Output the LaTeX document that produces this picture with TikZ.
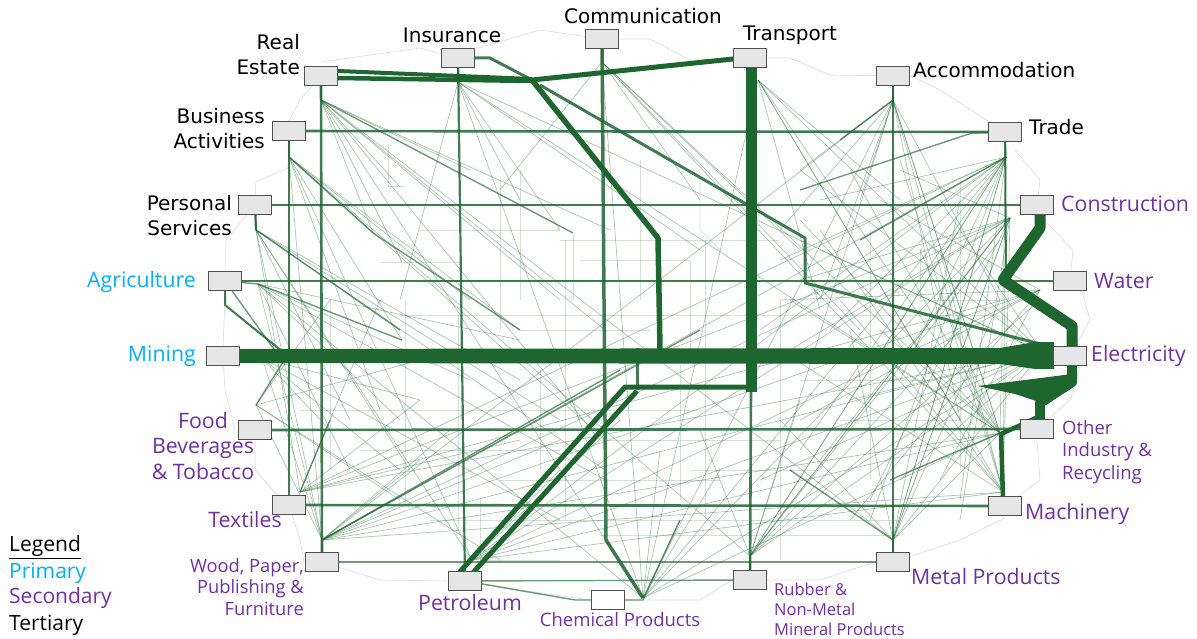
\documentclass[tikz,border=0pt]{standalone}
\usepackage{fontspec}
\setmainfont{Open Sans}
\newfontfamily\blk{DejaVu Sans}
\definecolor{eg}{HTML}{1F6530}
\definecolor{cy}{HTML}{00B0F0}
\definecolor{pu}{HTML}{7030A0}
\definecolor{bf}{HTML}{E6E6E6}
\definecolor{bl}{HTML}{505050}
\tikzset{
  box/.style={draw=bl, fill=bf, line width=1.3pt, minimum width=33pt, minimum height=19pt, inner sep=0pt},
  thinl/.style={draw=eg, line width=0.7pt, opacity=0.38},
  faint/.style={draw=eg, line width=0.6pt, opacity=0.2},
  medl/.style={draw=eg, line width=2.6pt, opacity=0.85, line join=round},
  semil/.style={draw=eg, line width=1.4pt, opacity=0.65, line join=round},
  thickl/.style={draw=eg, line width=5.5pt, line join=round},
  tlab/.style={font=\blk\fontsize{20}{25}\selectfont, text=black, inner sep=0pt},
  plab/.style={font=\fontsize{21.3}{25.5}\selectfont, text=pu, inner sep=0pt},
  clab/.style={font=\fontsize{21.3}{25.5}\selectfont, text=cy, inner sep=0pt},
  slab/.style={font=\fontsize{17.5}{21.5}\selectfont, text=pu, inner sep=0pt},
}
\begin{document}
\begin{tikzpicture}[x=1pt,y=-1pt]
\useasboundingbox (0,0) rectangle (1197,639);
\path
  (321,76)  coordinate (p-re)
  (458,58)  coordinate (p-ins)
  (602,39)  coordinate (p-com)
  (750,58)  coordinate (p-tra)
  (893,76)  coordinate (p-acc)
  (1005,132) coordinate (p-trd)
  (1037,205) coordinate (p-con)
  (1070,281) coordinate (p-wat)
  (1070,356) coordinate (p-ele)
  (1037,429) coordinate (p-oth)
  (1005,506) coordinate (p-mac)
  (893,562) coordinate (p-met)
  (750,580) coordinate (p-rub)
  (608,600) coordinate (p-che)
  (465,581) coordinate (p-pet)
  (322,562) coordinate (p-woo)
  (289,505) coordinate (p-tex)
  (255,430) coordinate (p-foo)
  (223,356) coordinate (p-min)
  (225,281) coordinate (p-agr)
  (255,205) coordinate (p-per)
  (289,131) coordinate (p-bus);
% stub points
\coordinate (s-re) at (321,100);
\coordinate (s-ins) at (458,82);
\coordinate (s-com) at (602,62);
\coordinate (s-tra) at (758,80);
\coordinate (s-acc) at (893,100);
\coordinate (s-trd) at (1006,157);
\coordinate (s-con) at (1010,218);
\coordinate (s-wat) at (1040,290);
\coordinate (s-ele) at (1042,352);
\coordinate (s-oth) at (1000,433);
\coordinate (s-mac) at (1003,492);
\coordinate (s-met) at (893,540);
\coordinate (s-rub) at (750,556);
\coordinate (s-che) at (643,598);
\coordinate (s-pet) at (472,560);
\coordinate (s-woo) at (322,540);
\coordinate (s-tex) at (300,492);
\coordinate (s-foo) at (256,405);
\coordinate (s-min) at (262,358);
\coordinate (s-agr) at (258,284);
\coordinate (s-per) at (256,230);
\coordinate (s-bus) at (289,157);
% ---------- faint rectilinear background lines ----------
\foreach \p in {
  {(405,300)--(405,505)}, {(458,315)--(458,530)}, {(565,240)--(565,520)}, {(705,240)--(705,520)},
  {(780,300)--(780,560)}, {(870,230)--(870,480)}, {(380,262)--(460,262)}, {(400,315)--(1000,315)},
  {(520,330)--(650,330)}, {(300,410)--(700,410)}, {(500,480)--(720,480)}, {(430,520)--(900,520)},
  {(600,535)--(900,535)}, {(560,240)--(780,240)}, {(388,145)--(388,186)--(405,186)}, {(573,235)--(573,300)},
  {(920,250)--(920,300)--(1000,300)}, {(840,420)--(960,420)}, {(330,300)--(330,470)}, {(500,180)--(500,330)},
  {(360,450)--(560,450)}, {(690,470)--(820,470)}, {(960,180)--(960,470)}, {(520,170)--(520,300)},
  {(640,160)--(640,300)}, {(580,260)--(690,260)--(690,350)}, {(440,280)--(620,280)}, {(700,180)--(700,230)--(720,250)},
  {(600,440)--(780,440)}, {(540,370)--(540,470)}, {(680,365)--(680,500)}, {(420,230)--(560,230)},
  {(800,380)--(930,380)}, {(480,500)--(480,560)--(560,560)}
}{ \draw[faint] \p; }
% ---------- perimeter faint links ----------
\draw[faint] (p-re) ++(0,-14) -- (420,48) -- (p-ins);
\draw[faint] (p-ins) ++(20,-10) -- (540,30) -- (p-com);
\draw[faint] (p-com) ++(18,0) -- (650,39) -- (690,60) -- (p-tra);
\draw[faint] (p-tra) ++(18,0) -- (790,58) -- (830,75) -- (p-acc);
\draw[faint] (p-acc) ++(18,0) -- (940,90) -- (p-trd);
\draw[faint] (p-trd) ++(10,18) -- (1040,180) -- (p-con);
\draw[faint] (p-con) ++(10,18) -- (1073,250) -- (p-wat);
\draw[faint] (p-wat) ++(12,10) -- (1090,320) -- (p-ele);
\draw[faint] (p-ele) ++(10,10) -- (1070,400) -- (p-oth);
\draw[faint] (p-oth) ++(0,12) -- (1040,480) -- (p-mac);
\draw[faint] (p-mac) ++(0,12) -- (960,540) -- (p-met);
\draw[faint] (p-met) ++(-18,0) -- (820,580) -- (p-rub);
\draw[faint] (p-rub) ++(-18,0) -- (700,600) -- (p-che);
\draw[faint] (p-che) ++(-18,0) -- (520,590) -- (p-pet);
\draw[faint] (p-pet) ++(-18,0) -- (380,580) -- (p-woo);
\draw[faint] (p-woo) ++(-18,0) -- (300,540) -- (p-tex);
\draw[faint] (p-tex) ++(-12,-10) -- (255,470) -- (p-foo);
\draw[faint] (p-foo) ++(-20,0) -- (225,390) -- (p-min);
\draw[faint] (p-min) ++(0,-10) -- (225,300) -- (p-agr);
\draw[faint] (p-agr) ++(0,-10) -- (226,240) -- (p-per);
\draw[faint] (p-per) ++(0,-10) -- (256,182) -- (288,168) -- (p-bus);
\draw[faint] (p-bus) ++(0,-10) -- (300,100) -- (p-re);
% ---------- thin fan lines to interior points ----------
\foreach \a/\x/\y in {
 re/400/187, re/373/233, re/402/262, re/605/330, re/600/440, re/560/300, re/470/170, re/610/230,
 bus/520/330, bus/402/340, bus/605/440, bus/380/410, bus/470/300,
 per/520/380, per/605/470, per/350/420, per/410/470, per/560/420,
 agr/520/340, agr/605/480, agr/470/380, agr/400/420, agr/350/470,
 min/400/470, min/560/520, min/330/430, min/420/400,
 foo/400/500, foo/500/560, foo/420/360, foo/330/300,
 tex/420/400, tex/520/440, tex/380/300,
 woo/450/430, woo/560/440, woo/420/460,
 ins/700/250, ins/560/230, ins/520/200, ins/400/300,
 com/800/250, com/860/330, com/700/200, com/500/190,
 tra/1040/350, tra/960/420, tra/900/200, tra/820/310,
 acc/780/230, acc/820/300, acc/1000/300, acc/960/420, acc/860/200, acc/800/170,
 trd/800/450, trd/830/330, trd/780/260, trd/870/520, trd/900/380, trd/960/500, trd/820/200, trd/760/330,
 con/820/460, con/790/350, con/870/500, con/960/520, con/800/280, con/900/170,
 wat/800/420, wat/850/520, wat/780/300, wat/880/200, wat/940/480,
 ele/800/170, ele/820/250, ele/900/480, ele/760/480, ele/850/400, ele/940/200,
 oth/800/220, oth/850/170, oth/790/300, oth/880/330, oth/920/250,
 mac/820/230, mac/900/160, mac/780/350, mac/840/300, mac/940/250,
 met/960/200, met/1000/300, met/780/420, met/850/330,
 rub/1000/240, rub/960/330, rub/1040/300, rub/800/400, rub/700/430,
 che/680/520, che/660/450, che/720/470, pet/560/470, pet/620/420}
{ \draw[thinl] (s-\a) -- (\x,\y); }
% ---------- thin node-to-node lines ----------
\foreach \a/\b in {
 re/met, re/che, bus/rub, bus/pet, per/pet, per/woo, agr/che, agr/woo, per/tex, bus/woo,
 woo/ele, woo/con, woo/wat, woo/trd, woo/oth, woo/acc, woo/mac,
 tex/ele, tex/con, tex/wat, tex/trd,
 pet/ele, pet/con, pet/wat, pet/oth, pet/mac,
 che/ele, che/con, che/trd, che/acc, che/tra, che/ins, che/com, che/oth,
 rub/con, rub/trd, rub/ele, rub/acc,
 met/con, met/trd, met/ele, met/oth, mac/trd, mac/con, oth/trd, oth/acc,
 ins/ele, ins/oth, com/mac, com/oth, tra/oth, tra/mac, acc/mac, acc/oth,
 trd/met, trd/rub, trd/pet, con/met, con/rub, min/woo, foo/woo}
{ \draw[thinl] (s-\a) -- (s-\b); }
% ---------- stubs ----------
\foreach \n in {re,ins,com,acc,trd,met,rub,woo,bus,per,agr}{ \draw[semil] (p-\n) -- (s-\n); }
% ---------- semi-medium lines ----------
\draw[semil] (s-re) -- (573,233);
\draw[semil] (s-bus) -- (373,233) -- (520,330);
\draw[semil] (s-per) -- (400,330);
\draw[semil] (s-agr) -- (402,340);
\draw[semil] (s-foo) -- (283,362) -- (p-agr);
\draw[semil] (p-pet) -- (575,600) -- (p-che);
\draw[semil] (p-che) -- (643,600) -- (680,520);
\draw[semil] (s-tex) -- (330,420);
\draw[semil] (s-woo) -- (620,370);
\draw[semil] (s-woo) -- (700,330);
\draw[semil] (p-woo) -- (p-met);
\draw[semil] (p-pet) -- (p-rub);
\draw[semil] (p-trd) -- (972,133) -- (800,190);
\draw[semil] (s-acc) -- (840,140);
\draw[semil] (s-trd) -- (860,240);
\draw[semil] (s-oth) -- (890,480);
\draw[semil] (s-met) -- (790,470);
% ---------- medium lines ----------
\draw[medl] (p-bus) -- (p-trd);
\draw[medl] (p-per) -- (p-con);
\draw[medl] (p-agr) -- (p-wat);
\draw[medl] (p-foo) -- (p-oth);
\draw[medl] (p-tex) -- (p-mac);
\draw[medl] (p-re) -- (p-woo);
\draw[medl, line width=2.2pt] (p-ins) -- (p-pet);
\draw[medl, line width=3.5pt] (p-com) -- (604,300) -- (606,540) -- (s-che);
\draw[medl, line width=2.2pt] (p-bus) -- (289,480) -- (p-tex);
\draw[medl, line width=2.2pt] (p-per) -- (256,230);
\draw[medl] (p-acc) -- (p-met);
\draw[medl] (751,390) -- (p-rub);
\draw[medl, line width=2pt] (p-trd) -- (1006,278);
\draw[medl, line width=2pt] (p-agr) -- (225,305) -- (283,352);
\draw[medl, line width=3pt] (637,348) -- (637,390);
\draw[medl, line width=3pt] (540,85) -- (805,238) -- (805,283) -- (1052,347);
\draw[medl, line width=3pt] (p-ins) -- (490,58) -- (532,80);
% ---------- thick lines ----------
\fill[eg] (240,349) -- (1000,348) -- (1035,342) -- (1054,342) -- (1054,369) -- (1035,369) -- (1000,364) -- (240,363) -- cycle;
\draw[thickl, line width=4pt] (338,71) -- (532,79);
\draw[thickl, line width=4.5pt] (338,78) -- (532,81);
\draw[thickl, line width=5pt] (532,80) -- (733,59);
\draw[thickl, line width=5.5pt] (532,80) -- (658,238) -- (660,349);
\draw[thickl, line width=11pt] (751,68) -- (751,392);
\draw[thickl, line width=5pt] (751,387) -- (625,387) -- (458,574);
\draw[thickl, line width=5pt] (637,391) -- (470,576);
\draw[thickl, line width=11pt] (1040,214) -- (1040,228) -- (1003,280) -- (1072,326) -- (1072,346);
\draw[thickl, line width=10pt] (1072,365) -- (1072,382) -- (1040,403) -- (1040,421);
\fill[eg] (1072,374) -- (978,386) -- (1015,394) -- (1045,404) -- (1072,388) -- cycle;
\draw[thickl, line width=4.5pt] (1003,497) -- (1001,434) -- (1038,417);
% ---------- boxes ----------
\foreach \n in {re,ins,com,tra,acc,trd,con,wat,ele,oth,mac,met,rub,pet,woo,tex,foo,min,agr,per,bus}{
  \node[box] (\n) at (p-\n) {};
}
\node[box, fill=white] (che) at (p-che) {};
% ---------- labels ----------
\node[tlab, anchor=east, align=right] (l-re) at (300,55) {Real\\Estate};
\node[tlab] (l-ins) at (452,35) {Insurance};
\node[tlab] (l-com) at (643,16) {Communication};
\node[tlab] (l-tra) at (790,35) {Transport};
\node[tlab, anchor=west] (l-acc) at (913,70) {Accommodation};
\node[tlab, anchor=west] (l-trd) at (1029,127) {Trade};
\node[tlab, anchor=east, align=right] (l-bus) at (265,128.5) {Business\\Activities};
\node[tlab, anchor=east, align=right] (l-per) at (232,216) {Personal\\Services};
\node[plab, anchor=west] (l-con) at (1061,204) {Construction};
\node[plab, anchor=west] (l-wat) at (1094,281) {Water};
\node[plab, anchor=west] (l-ele) at (1091,356) {Electricity};
\node[slab, font=\fontsize{18.5}{22.5}\selectfont, anchor=west, align=left] (l-oth) at (1062,452) {Other\\Industry \&\\Recycling};
\node[plab, anchor=west] (l-mac) at (1025,514) {Machinery};
\node[plab, anchor=west] (l-met) at (911,577) {Metal Products};
\node[slab, anchor=west, align=left, font=\fontsize{16.5}{20}\selectfont] (l-rub) at (774,609) {Rubber \&\\Non-Metal\\Mineral Products};
\node[slab, font=\fontsize{18.5}{22}\selectfont] (l-che) at (620,620) {Chemical Products};
\node[plab] (l-pet) at (470,603) {Petroleum};
\node[slab, font=\fontsize{18.3}{21.5}\selectfont, anchor=east, align=right] (l-woo) at (304,587) {Wood, Paper,\\Publishing \&\\Furniture};
\node[plab] (l-tex) at (245,520) {Textiles};
\node[plab, align=center] (l-foo) at (203,446) {Food\\Beverages\\\& Tobacco};
\node[clab, anchor=east] (l-min) at (196,356) {Mining};
\node[clab, anchor=east] (l-agr) at (196,282) {Agriculture};
% legend
\node[tlab, font=\fontsize{21}{25}\selectfont, anchor=west] (lg) at (9,547) {\underline{Legend}};
\node[clab, font=\fontsize{21}{25}\selectfont, anchor=west] (lg1) at (9,573) {Primary};
\node[plab, font=\fontsize{21}{25}\selectfont, anchor=west] (lg2) at (9,598) {Secondary};
\node[tlab, font=\fontsize{21}{25}\selectfont, anchor=west] (lg3) at (9,625) {Tertiary};
\end{tikzpicture}
\end{document}
